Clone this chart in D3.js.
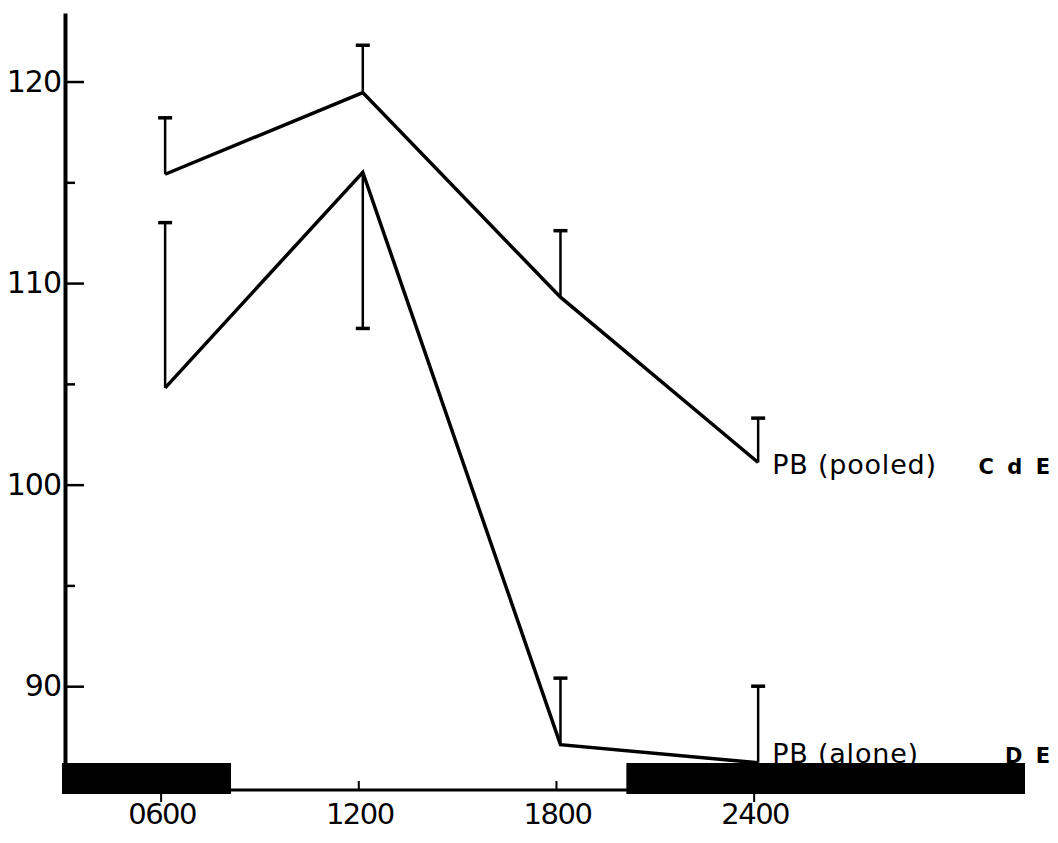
<!DOCTYPE html>
<html>
<head>
<meta charset="utf-8">
<script src="https://cdn.jsdelivr.net/npm/d3@7"></script>
<style>
  body { margin: 0; background: #fff; }
  text { font-family: "DejaVu Sans", sans-serif; fill: #000; }
</style>
</head>
<body>
<div id="chart-area"></div>
<script>
// clock hours of the samples
var hours = [6, 12, 18, 24];
var hourLabels = ["0600", "1200", "1800", "2400"];

// group means and the far end of each error bar
var pooledMean = [115.4, 119.45, 109.3, 101.1];
var pooledErr  = [118.2, 121.8, 112.6, 103.3];
var aloneMean  = [104.8, 115.5, 87.1, 86.2];
var aloneErr   = [113.0, 107.75, 90.4, 90.0];

// dark periods (hours)
var darkStart = [2.87, 20];
var darkEnd   = [8, 32.1];

var majorTicks = [90, 100, 110, 120];
var minorTicks = [95, 105, 115];

var series = [
    {name: "PB (pooled)", code: "C d E", mean: pooledMean, err: pooledErr, dy: 12},
    {name: "PB (alone)",  code: "D E",   mean: aloneMean,  err: aloneErr,  dy: 0}
];

var width = 1058, height = 843;

var x = d3.scaleLinear().domain([2.87, 32.1]).range([62, 1025]);
var y = d3.scaleLinear().domain([84.85, 123.4]).range([790, 13]);

var svg = d3.select("#chart-area").append("svg")
    .attr("width", width)
    .attr("height", height);

// y axis, ticks point into the plot
var yAxis = svg.append("g")
    .attr("transform", "translate(65,0)")
    .call(d3.axisLeft(y).tickValues(majorTicks).tickSize(-19).tickSizeOuter(0).tickPadding(4));
yAxis.select(".domain").attr("stroke-width", 4);
yAxis.selectAll(".tick line").attr("stroke-width", 2.5);
yAxis.selectAll(".tick text")
    .attr("font-size", 30)
    .attr("font-family", "DejaVu Sans")
    .attr("letter-spacing", -1);

var yMinor = svg.append("g")
    .attr("transform", "translate(65,0)")
    .call(d3.axisLeft(y).tickValues(minorTicks).tickSize(-10).tickSizeOuter(0).tickFormat(""));
yMinor.select(".domain").remove();
yMinor.selectAll(".tick line").attr("stroke-width", 2.5);

// x baseline
svg.append("line")
    .attr("x1", x.range()[0]).attr("x2", x.range()[1])
    .attr("y1", y.range()[0]).attr("y2", y.range()[0])
    .attr("stroke", "#000")
    .attr("stroke-width", 3);

// dark bars
svg.selectAll("rect.dark")
    .data(darkStart)
    .enter()
    .append("rect")
        .attr("class", "dark")
        .attr("x", function(d){ return x(d); })
        .attr("y", y.range()[0] - 27)
        .attr("width", function(d, i){ return x(darkEnd[i]) - x(d); })
        .attr("height", 31)
        .attr("fill", "#000");

// x ticks: up from the line in light, down below the bar in dark
function inDark(h){
    for (var i = 0; i < darkStart.length; i++){
        if (h >= darkStart[i] && h <= darkEnd[i]) { return true; }
    }
    return false;
}
svg.selectAll("line.xtick")
    .data(hours)
    .enter()
    .append("line")
        .attr("class", "xtick")
        .attr("x1", function(d){ return x(d) - 4; })
        .attr("x2", function(d){ return x(d) - 4; })
        .attr("y1", function(d){ return inDark(d) ? y.range()[0] + 4 : y.range()[0]; })
        .attr("y2", function(d){ return inDark(d) ? y.range()[0] + 12 : y.range()[0] - 9; })
        .attr("stroke", "#000")
        .attr("stroke-width", 2);

svg.selectAll("text.xlabel")
    .data(hours)
    .enter()
    .append("text")
        .attr("class", "xlabel")
        .attr("x", function(d){ return x(d) - 3; })
        .attr("y", 824)
        .attr("text-anchor", "middle")
        .attr("font-size", 29)
        .attr("letter-spacing", -1.5)
        .text(function(d, i){ return hourLabels[i]; });

// lines
var line = d3.line()
    .x(function(d, i){ return x(hours[i]); })
    .y(function(d){ return y(d); });

series.forEach(function(s){
    var g = svg.append("g");

    // error bars
    g.selectAll("line.err")
        .data(s.err)
        .enter()
        .append("line")
            .attr("x1", function(d, i){ return x(hours[i]); })
            .attr("x2", function(d, i){ return x(hours[i]); })
            .attr("y1", function(d, i){ return y(s.mean[i]); })
            .attr("y2", function(d){ return y(d); })
            .attr("stroke", "#000")
            .attr("stroke-width", 2.5);
    g.selectAll("line.cap")
        .data(s.err)
        .enter()
        .append("line")
            .attr("x1", function(d, i){ return x(hours[i]) - 7; })
            .attr("x2", function(d, i){ return x(hours[i]) + 7; })
            .attr("y1", function(d){ return y(d); })
            .attr("y2", function(d){ return y(d); })
            .attr("stroke", "#000")
            .attr("stroke-width", 3.5);

    g.append("path")
        .datum(s.mean)
        .attr("d", line)
        .attr("fill", "none")
        .attr("stroke", "#000")
        .attr("stroke-width", 3.5)
        .attr("stroke-linejoin", "miter");

    var last = s.mean.length - 1;
    g.append("text")
        .attr("x", x(hours[last]) + 14)
        .attr("y", y(s.mean[last]) + s.dy)
        .attr("font-size", 27)
        .attr("letter-spacing", 0.8)
        .text(s.name);
    g.append("text")
        .attr("x", 1053)
        .attr("y", y(s.mean[last]) + s.dy)
        .attr("text-anchor", "end")
        .attr("font-size", 21)
        .attr("font-weight", "bold")
        .attr("letter-spacing", 3)
        .text(s.code);
});
</script>
</body>
</html>
